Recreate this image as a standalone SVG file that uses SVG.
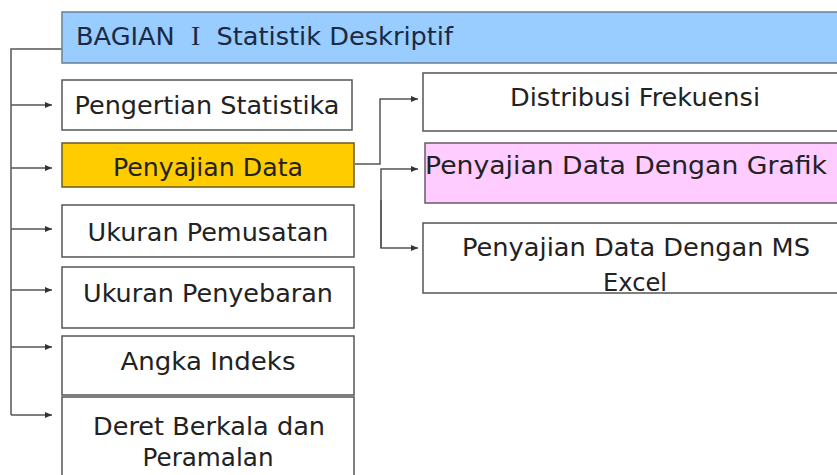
<svg xmlns="http://www.w3.org/2000/svg" width="837" height="475" viewBox="0 0 837 475">
<style>
  .box { stroke: #555; stroke-width: 1.5; fill: #ffffff; }
  .t { font-family: "DejaVu Sans", Verdana, sans-serif; font-size: 25px; fill: #222; text-anchor: middle; }
  .c { fill: none; stroke: #555; stroke-width: 1.5; }
</style>
<defs>
  <marker id="ah" markerWidth="8" markerHeight="8" refX="7" refY="4" orient="auto" markerUnits="userSpaceOnUse">
    <path d="M0,1 L7,4 L0,7 Z" fill="#333"/>
  </marker>
</defs>
<rect width="837" height="475" fill="#ffffff"/>

<g id="connectors">
  <path class="c" d="M62,49 H11 V415"/>
  <path class="c" d="M11,105 H52" marker-end="url(#ah)"/>
  <path class="c" d="M11,168 H52" marker-end="url(#ah)"/>
  <path class="c" d="M11,229 H52" marker-end="url(#ah)"/>
  <path class="c" d="M11,290 H52" marker-end="url(#ah)"/>
  <path class="c" d="M11,347 H52" marker-end="url(#ah)"/>
  <path class="c" d="M11,415 H52" marker-end="url(#ah)"/>
  <path class="c" d="M355,164 H380 V99 H418" marker-end="url(#ah)"/>
  <path class="c" d="M381,248 V169 H418" marker-end="url(#ah)"/>
  <path class="c" d="M381,200 V248 H418" marker-end="url(#ah)"/>
</g>

<g id="title">
  <rect x="62" y="12" width="790" height="51" fill="#99ccff" stroke="#6a7f95" stroke-width="1.5"/>
  <text x="76" y="45" xml:space="preserve" font-family="'DejaVu Sans', Verdana, sans-serif" font-size="25" fill="#1a2a44" textLength="377" lengthAdjust="spacingAndGlyphs">BAGIAN  <tspan font-family="'Liberation Serif', serif" font-size="27">I</tspan>  Statistik Deskriptif</text>
</g>

<g id="pengertian">
  <rect class="box" x="62" y="80" width="290" height="50"/>
  <text class="t" x="207" y="114" textLength="265" lengthAdjust="spacingAndGlyphs">Pengertian Statistika</text>
</g>

<g id="penyajian">
  <rect x="62" y="143" width="292" height="44" fill="#ffcc00" stroke="#6b5a20" stroke-width="1.5"/>
  <text class="t" x="208" y="176" fill="#3a2a10" textLength="190" lengthAdjust="spacingAndGlyphs">Penyajian Data</text>
</g>

<g id="pemusatan">
  <rect class="box" x="62" y="205" width="292" height="52"/>
  <text class="t" x="208" y="241" textLength="241" lengthAdjust="spacingAndGlyphs">Ukuran Pemusatan</text>
</g>

<g id="penyebaran">
  <rect class="box" x="62" y="267" width="292" height="61"/>
  <text class="t" x="208" y="302" textLength="250" lengthAdjust="spacingAndGlyphs">Ukuran Penyebaran</text>
</g>

<g id="indeks">
  <rect class="box" x="62" y="336" width="292" height="59"/>
  <text class="t" x="208" y="370" textLength="175" lengthAdjust="spacingAndGlyphs">Angka Indeks</text>
</g>

<g id="deret">
  <rect class="box" x="62" y="397" width="292" height="90"/>
  <text class="t" x="209" y="435" textLength="232" lengthAdjust="spacingAndGlyphs">Deret Berkala dan</text>
  <text class="t" x="208" y="466" textLength="131" lengthAdjust="spacingAndGlyphs">Peramalan</text>
</g>

<g id="distribusi">
  <rect class="box" x="423" y="73" width="424" height="58"/>
  <text class="t" x="635" y="106" textLength="250" lengthAdjust="spacingAndGlyphs">Distribusi Frekuensi</text>
</g>

<g id="grafik">
  <rect x="425" y="143" width="424" height="60" fill="#ffccff" stroke="#6b5a6b" stroke-width="1.5"/>
  <text class="t" x="626" y="174" fill="#2a1a2a" textLength="402" lengthAdjust="spacingAndGlyphs">Penyajian Data Dengan Grafik</text>
</g>

<g id="excel">
  <rect class="box" x="423" y="223" width="424" height="70"/>
  <text class="t" x="636" y="256" textLength="348" lengthAdjust="spacingAndGlyphs">Penyajian Data Dengan MS</text>
  <text class="t" x="635" y="291" textLength="64" lengthAdjust="spacingAndGlyphs">Excel</text>
</g>
</svg>
